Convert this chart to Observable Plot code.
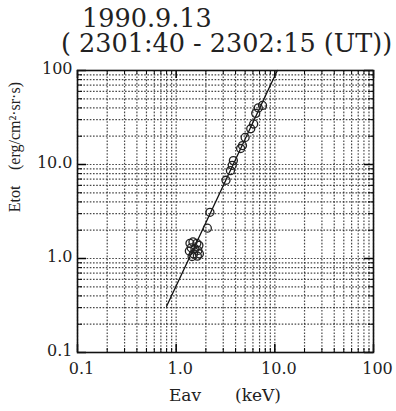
<!DOCTYPE html>
<html>
<head>
<meta charset="utf-8">
<script src="https://cdn.jsdelivr.net/npm/d3@7"></script>
<script src="https://cdn.jsdelivr.net/npm/@observablehq/plot@0.6"></script>
<style>
  html, body { margin: 0; padding: 0; background: #fff; }
  #chart { position: relative; width: 396px; height: 411px; }
</style>
</head>
<body>
<div id="chart"></div>
<script>
// ---- data ----
const titleLines = ["1990.9.13", "( 2301:40 - 2302:15 (UT))"];
const xLabelParts = ["Eav", "(keV)"];
const yLabelParts = ["Etot", "(erg/cm\u00B2\u00B7sr\u00B7s)"];

const xTicks = [0.1, 1, 10, 100];
const xTickLabels = ["0.1", "1.0", "10.0", "100"];
const yTicks = [0.1, 1, 10, 100];
const yTickLabels = ["0.1", "1.0", "10.0", "100"];

const decades = [0.1, 1, 10];
const mult = [1, 2, 3, 4, 5, 6, 7, 8, 9];

// observed points (Eav keV, Etot erg/cm2 sr s)
const eav  = [7.5, 6.8, 6.4, 6.1, 5.7, 5.0, 4.7, 4.5, 3.8, 3.7, 3.55, 3.2, 2.2, 2.07,
              1.38, 1.48, 1.62, 1.70, 1.42, 1.55, 1.66, 1.36, 1.50, 1.64, 1.45, 1.72];
const etot = [42.5, 40, 35, 27, 24, 19.4, 15.9, 14.8, 11.0, 9.8, 8.6, 6.8, 3.1, 2.1,
              1.45, 1.50, 1.45, 1.38, 1.30, 1.27, 1.22, 1.20, 1.12, 1.06, 1.05, 1.12];

// fitted line endpoints
const fitEav  = [0.8, 10.6];
const fitEtot = [0.31, 100];

// ---- build ----
const points = eav.map((x, i) => ({x, y: etot[i]}));
const fit = fitEav.map((x, i) => ({x, y: fitEtot[i]}));
const gridVals = decades.flatMap(d => mult.map(m => +(d * m).toPrecision(3))).concat([100]);
const minorVals = gridVals.filter(v => !xTicks.includes(v));

const W = 396, H = 411, mt = 70, ml = 77, mr = 23, mb = 59;
const fh = H - mt - mb, fw = W - ml - mr;

const gridStyle = {stroke: "#1a1a1a", strokeWidth: 1.2, strokeDasharray: "1.6,1.6", strokeOpacity: 0.8};
const serif = "DejaVu Serif";

const plot = Plot.plot({
  width: W, height: H,
  marginTop: mt, marginLeft: ml, marginRight: mr, marginBottom: mb,
  style: {background: "#fff", fontFamily: serif},
  x: {type: "log", domain: [0.1, 100], axis: null},
  y: {type: "log", domain: [0.1, 100], axis: null},
  marks: [
    Plot.ruleX(gridVals, {x: d => d, ...gridStyle}),
    Plot.ruleY(gridVals, {y: d => d, ...gridStyle}),
    // inward minor ticks
    Plot.ruleX(minorVals, {x: d => d, insetTop: fh - 4, stroke: "#000"}),
    Plot.ruleX(minorVals, {x: d => d, insetBottom: fh - 4, stroke: "#000"}),
    Plot.ruleY(minorVals, {y: d => d, insetRight: fw - 5, stroke: "#000"}),
    Plot.ruleY(minorVals, {y: d => d, insetLeft: fw - 5, stroke: "#000"}),
    // inward major ticks
    Plot.ruleX(xTicks, {x: d => d, insetTop: fh - 8, stroke: "#000", strokeWidth: 1.5}),
    Plot.ruleX(xTicks, {x: d => d, insetBottom: fh - 8, stroke: "#000", strokeWidth: 1.5}),
    Plot.ruleY(yTicks, {y: d => d, insetRight: fw - 9, stroke: "#000", strokeWidth: 1.5}),
    Plot.ruleY(yTicks, {y: d => d, insetLeft: fw - 9, stroke: "#000", strokeWidth: 1.5}),
    Plot.frame({stroke: "#111", strokeWidth: 1.6}),
    Plot.line(fit, {x: "x", y: "y", stroke: "#111", strokeWidth: 1.3}),
    Plot.dot(points, {x: "x", y: "y", r: 4, stroke: "#222", strokeWidth: 1.3, fill: "none"}),
    // tick labels
    Plot.text(xTicks, {x: d => d, frameAnchor: "bottom", dy: 21, dx: 4,
      text: (d, i) => xTickLabels[i], fontSize: 16, fontFamily: serif, fill: "#222"}),
    Plot.text(yTicks, {y: d => d, frameAnchor: "left", dx: -5, dy: -2, textAnchor: "end",
      text: (d, i) => yTickLabels[i], fontSize: 16, fontFamily: serif, fill: "#222"})
  ]
});
document.getElementById("chart").appendChild(plot);

// titles and axis labels as real SVG text
const svg = d3.select(plot);
const txt = (x, y, s, size, fam, anchor = "start", rot = 0) =>
  svg.append("text")
    .attr("transform", `translate(${x},${y}) rotate(${rot})`)
    .attr("text-anchor", anchor)
    .attr("font-family", fam)
    .attr("font-size", size)
    .attr("fill", "#222")
    .text(s);

txt(82, 27, titleLines[0], 25.5, serif);
txt(61, 52, titleLines[1], 25.5, serif);
txt(185, 401, xLabelParts[0], 17, serif, "middle");
txt(258, 401, xLabelParts[1], 17, serif, "middle");
txt(20, 199, yLabelParts[0], 16, "Liberation Serif", "middle", -90);
txt(20, 126, yLabelParts[1], 16, "Liberation Serif", "middle", -90);
</script>
</body>
</html>
